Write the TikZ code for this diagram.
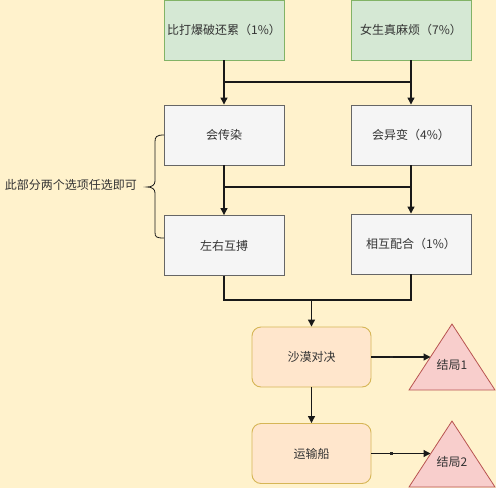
\documentclass[tikz,border=0pt]{standalone}
\usepackage{fontspec}
\setmainfont{Noto Sans CJK SC}
\usetikzlibrary{arrows.meta}
\definecolor{bg}{HTML}{FFF2CC}
\definecolor{gfill}{HTML}{D5E8D4}
\definecolor{gline}{HTML}{82B366}
\definecolor{pfill}{HTML}{F5F5F5}
\definecolor{pline}{HTML}{666666}
\definecolor{ofill}{HTML}{FFE6CC}
\definecolor{oline}{HTML}{D6B656}
\definecolor{rfill}{HTML}{F8CECC}
\definecolor{rline}{HTML}{B85450}
\definecolor{txt}{HTML}{333333}
\tikzset{
  base/.style={font=\fontsize{12}{14}\selectfont, text=txt, inner sep=0pt, line width=0.9pt},
  greenbox/.style={base, draw=gline, fill=gfill, minimum width=120pt, minimum height=60pt},
  graybox/.style={base, draw=pline, fill=pfill, minimum width=120pt, minimum height=60pt},
  orangebox/.style={base, draw=oline, fill=ofill, minimum width=119pt, minimum height=60pt, rounded corners=9pt},
  tri/.style={draw=rline, fill=rfill, line width=0.8pt},
  lbl/.style={font=\fontsize{12}{14}\selectfont, text=txt, inner sep=0pt},
  conn/.style={line width=1.2pt, draw=black!90},
  arr/.style={conn, -{Triangle[length=7pt,width=7pt]}},
}
\begin{document}
\begin{tikzpicture}[x=1pt,y=-1pt]
\fill[bg] (0,0) rectangle (496,488);
\useasboundingbox (0,0) rectangle (496,488);

\node[greenbox] (a1) at (224,30) {比打爆破还累（1\%）};
\node[greenbox] (a2) at (411,30) {女生真麻烦（7\%）};
\node[graybox] (b1) at (224,135) {会传染};
\node[graybox] (b2) at (411,135) {会异变（4\%）};
\node[graybox] (c1) at (224,245.5) {左右互搏};
\node[graybox] (c2) at (411,244) {相互配合（1\%）};
\node[orangebox] (d1) at (311.5,357) {沙漠对决};
\node[orangebox] (d2) at (311.5,453.5) {运输船};

% triangles
\draw[tri] (452,324) -- (495,390) -- (409,390) -- cycle;
\draw[tri] (452,421) -- (495,487) -- (409,487) -- cycle;
\node[lbl] (e1) at (452,365) {结局1};
\node[lbl] (e2) at (452,462) {结局2};
\coordinate (t1) at (430.5,357);
\coordinate (t2) at (430.5,453.5);

% junctions
\coordinate (j1) at (224,82);
\coordinate (j2) at (411,82);
\coordinate (k1) at (224,187);
\coordinate (k2) at (411,187);
\coordinate (m1) at (224,300);
\coordinate (m2) at (411,300);
\coordinate (m3) at (311.5,300);

\draw[arr] (a1.south) -- (b1.north);
\draw[arr] (a2.south) -- (b2.north);
\draw[conn] (j1) -- (j2);

\draw[arr] (b1.south) -- (c1.north);
\draw[arr] (b2.south) -- (c2.north);
\draw[conn] (k1) -- (k2);

\draw[conn] (c1.south) -- (m1) -- (m2) -- (c2.south);
\draw[arr] (m3) -- (d1.north);
\draw[arr] (d1.south) -- (d2.north);

\draw[arr] (d1.east) -- (t1);
\draw[arr] (d2.east) -- (t2);
\fill[black!85] (389.5,355.8) rectangle (392.5,358.2);
\fill[black!85] (389.5,452.3) rectangle (392.5,454.7);

% brace
\draw[line width=0.8pt, black!90]
  (164,135) .. controls (156,135) and (155,137) .. (155,142)
  -- (155,181) .. controls (155,185) and (152,187) .. (147,187)
  .. controls (152,187) and (155,189) .. (155,193)
  -- (155,232) .. controls (155,237) and (156,238) .. (164,238);
\node[lbl] (note) at (71,185) {此部分两个选项任选即可};
\end{tikzpicture}
\end{document}
